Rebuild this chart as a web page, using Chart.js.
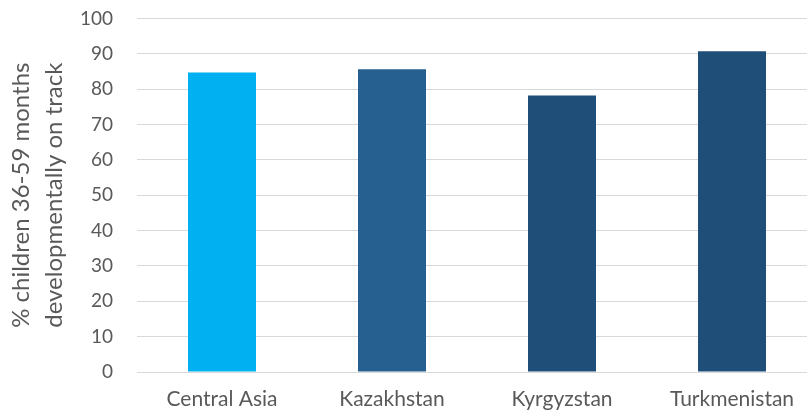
<!DOCTYPE html>
<html>
<head>
<meta charset="utf-8">
<script src="https://cdn.jsdelivr.net/npm/chart.js@4"></script>
<style>
  html, body { margin: 0; padding: 0; background: #fff; overflow: hidden; }
  #wrap { width: 820px; height: 433px; margin-top: -17px; }
</style>
</head>
<body>
<div id="wrap"><canvas id="chart"></canvas></div>
<script>
// chart data
const countries = ['Central Asia', 'Kazakhstan', 'Kyrgyzstan', 'Turkmenistan'];
const onTrack = [84.7, 85.6, 78.2, 90.7];
const barColors = ['#00B0F0', '#256090', '#1F4E79', '#1F4E79'];
const axisTitle = ['% children 36-59 months', 'developmentally on track'];

const textGrey = '#595959';
const gridGrey = '#D9D9D9';
const fontFamily = "Lato, 'Liberation Sans', sans-serif";

new Chart(document.getElementById('chart'), {
    type: 'bar',
    data: {
        labels: countries,
        datasets: [{
            data: onTrack,
            backgroundColor: barColors,
            categoryPercentage: 1.0,
            barPercentage: 0.4
        }]
    },
    options: {
        responsive: true,
        maintainAspectRatio: false,
        animation: false,
        layout: { padding: { top: 6, left: 5, right: 3, bottom: 0 } },
        plugins: {
            legend: { display: false },
            tooltip: { enabled: false }
        },
        scales: {
            x: {
                grid: { display: false, drawTicks: false },
                border: { display: false },
                ticks: { color: textGrey, font: { family: fontFamily, size: 21 }, padding: 15, maxRotation: 0 },
                afterFit: (s) => { s.height = 44; }
            },
            y: {
                min: 0,
                max: 100,
                grid: { color: gridGrey, lineWidth: 1, drawTicks: false },
                border: { display: false },
                ticks: { stepSize: 10, color: textGrey, font: { family: fontFamily, size: 19 }, padding: 24 },
                title: {
                    display: true,
                    text: axisTitle,
                    color: textGrey,
                    font: { family: fontFamily, size: 24, lineHeight: 1.38 },
                    padding: { top: 0, bottom: 0 }
                },
                afterFit: (s) => { s.width = 132; }
            }
        }
    }
});
</script>
</body>
</html>
